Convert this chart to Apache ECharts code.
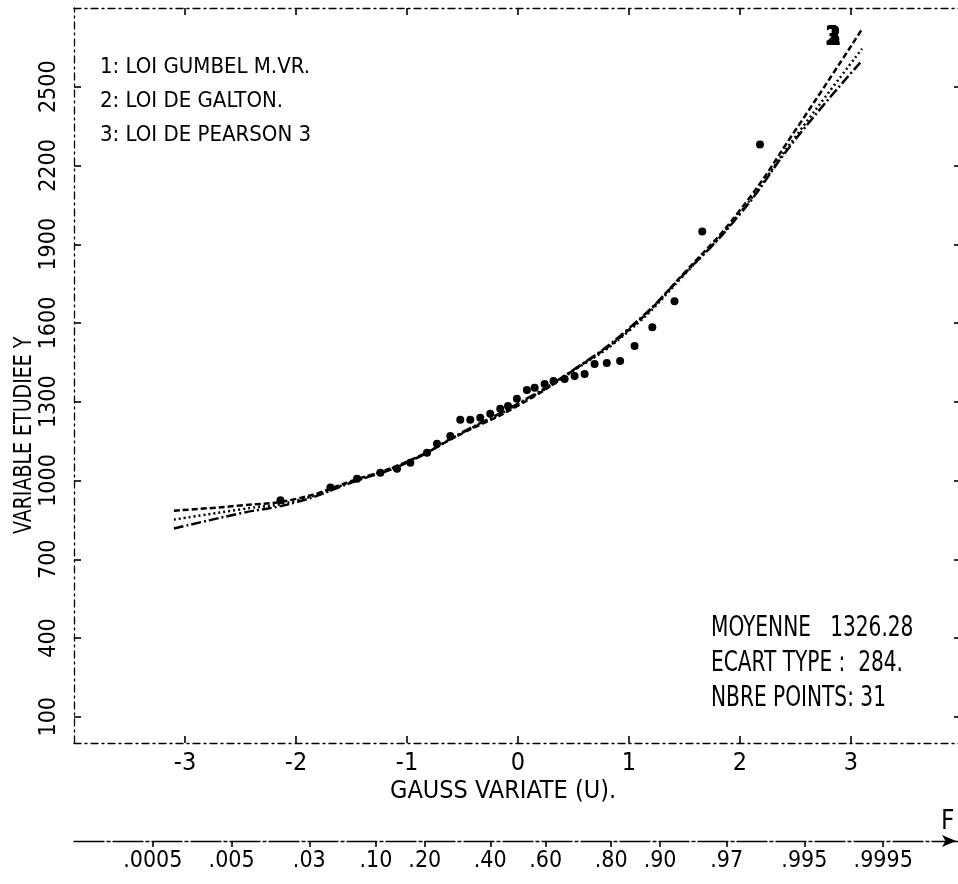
<!DOCTYPE html>
<html>
<head>
<meta charset="utf-8">
<script type="text/javascript" src="https://cdn.jsdelivr.net/npm/echarts@6/dist/echarts.min.js"></script>
<title>Ajustement - papier de Gauss</title>
<style>body{margin:0;background:#fff;}</style>
</head>
<body>
<div id="container" style="width:958px;height:884px;"></div>
<script type="text/javascript">
var FONT = '"DejaVu Sans Condensed", "DejaVu Sans", sans-serif';

// points observes : variable de Gauss u, valeur y
var obsU = [-2.14, -1.69, -1.45, -1.24, -1.09, -0.97, -0.82, -0.73, -0.61, -0.52, -0.43,
            -0.34, -0.25, -0.16, -0.09, -0.01, 0.08, 0.15, 0.24, 0.32, 0.42,
            0.51, 0.60, 0.69, 0.80, 0.92, 1.05, 1.21, 1.41, 1.66, 2.18];
var obsY = [925, 973, 1007, 1030, 1045, 1068, 1106, 1140, 1170, 1231, 1231,
            1239, 1254, 1273, 1284, 1311, 1345, 1353, 1368, 1379, 1387,
            1398, 1406, 1444, 1448, 1455, 1512, 1584, 1683, 1949, 2280];

// lois ajustees
var curveNames = ['1: LOI GUMBEL M.VR.', '2: LOI DE GALTON.', '3: LOI DE PEARSON 3'];
var curveU   = [-3.1, -2.5, -2, -1.5, -1, -0.5, 0, 0.5, 1, 1.5, 2, 2.5, 3.1];
var gumbelY  = [885, 905, 930, 998, 1072, 1180, 1285, 1420, 1575, 1792, 2030, 2335, 2720];
var galtonY  = [851, 890, 923, 995, 1070, 1182, 1290, 1418, 1570, 1785, 2020, 2310, 2645];
var pearsonY = [817, 875, 917, 992, 1068, 1184, 1293, 1422, 1580, 1788, 2015, 2300, 2600];

// graduations
var gaussTicks = [-3, -2, -1, 0, 1, 2, 3];
var yTicks = [100, 400, 700, 1000, 1300, 1600, 1900, 2200, 2500];
var probPos = [-3.29, -2.58, -1.88, -1.28, -0.84, -0.25, 0.25, 0.84, 1.28, 1.88, 2.58, 3.29];
var probLabels = ['.0005', '.005', '.03', '.10', '.20', '.40', '.60', '.80', '.90', '.97', '.995', '.9995'];

function zip(a, b) {
    return a.map(function (v, i) { return [v, b[i]]; });
}
// styles : toujours un nouvel objet
function borderStyle() { return { color: '#000', width: 1.3, type: [7, 4, 2, 4] }; }
function tickStyle() { return { color: '#000', width: 1.6, type: 'solid' }; }
function txt(text, x, y, size, extra) {
    var el = { type: 'text', x: x, y: y, style: { text: text, font: size + 'px ' + FONT, fill: '#000' } };
    for (var k in (extra || {})) { el[k] = extra[k]; }
    return el;
}

var myChart = echarts.init(document.getElementById('container'));

var labels = [
    // legende des lois
    txt(curveNames[0], 100, 56, 22),
    txt(curveNames[1], 100, 90, 22),
    txt(curveNames[2], 100, 124, 22),
    // titre des axes
    txt('GAUSS VARIATE (U).', 390, 779, 25),
    txt('F', 941, 809, 26),
    txt('VARIABLE ETUDIEE Y', 13, 534, 24, { rotation: Math.PI / 2, scaleX: 0.88 }),
    // numeros des lois en bout de courbe
    txt('1', 825, 25, 26, { style: { text: '1', font: 'bold 26px ' + FONT, fill: '#000' } }),
    txt('2', 825, 25, 26, { style: { text: '2', font: 'bold 26px ' + FONT, fill: '#000' } }),
    txt('3', 825, 25, 26, { style: { text: '3', font: 'bold 26px ' + FONT, fill: '#000' } }),
    // statistiques
    txt('MOYENNE   1326.28\nECART TYPE :  284.\nNBRE POINTS: 31', 711, 611, 28, { scaleX: 0.8 })
];
labels[labels.length - 1].style.lineHeight = 35;

var option = {
    backgroundColor: '#fff',
    animation: false,
    grid: { left: 74, right: -4, top: 8, bottom: 141, outerBoundsMode: 'none' },
    xAxis: [{
        // axe de Gauss
        type: 'value', min: -4, max: 4, position: 'bottom',
        axisLine: { show: true, onZero: false, lineStyle: borderStyle() },
        axisTick: { show: true, inside: true, length: 7, customValues: gaussTicks, lineStyle: tickStyle() },
        axisLabel: { customValues: gaussTicks, fontFamily: FONT, fontSize: 25, color: '#000', margin: 8 },
        splitLine: { show: false }
    }, {
        // bord superieur
        type: 'value', min: -4, max: 4, position: 'top',
        axisLine: { show: true, onZero: false, lineStyle: borderStyle() },
        axisTick: { show: true, inside: true, length: 7, customValues: gaussTicks, lineStyle: tickStyle() },
        axisLabel: { show: false },
        splitLine: { show: false }
    }, {
        // axe des frequences
        type: 'value', min: -4, max: 4, position: 'bottom', offset: 98,
        axisLine: {
            show: true, onZero: false,
            lineStyle: { color: '#000', width: 1.3, type: [30, 3, 3, 3] },
            symbol: ['none', 'arrow'], symbolSize: [9, 14], symbolOffset: [0, -6]
        },
        axisTick: { show: true, length: 6, customValues: probPos, lineStyle: tickStyle() },
        axisLabel: {
            customValues: probPos, fontFamily: FONT, fontSize: 23, color: '#000', margin: 9,
            formatter: function (v) { return probLabels[probPos.indexOf(v)]; }
        },
        splitLine: { show: false }
    }],
    yAxis: [{
        type: 'value', min: 0, max: 2800, position: 'left',
        axisLine: { show: true, onZero: false, lineStyle: borderStyle() },
        axisTick: { show: true, inside: true, length: 7, customValues: yTicks, lineStyle: tickStyle() },
        axisLabel: {
            customValues: yTicks, rotate: 90, fontFamily: FONT, fontSize: 23, color: '#000', margin: 13,
            formatter: function (v) { return String(v); }
        },
        splitLine: { show: false }
    }, {
        type: 'value', min: 0, max: 2800, position: 'right',
        axisLine: { show: false, onZero: false },
        axisTick: { show: true, inside: true, length: 8, customValues: yTicks, lineStyle: tickStyle() },
        axisLabel: { show: false },
        splitLine: { show: false }
    }],
    graphic: labels,
    series: [{
        name: curveNames[0],
        type: 'line', smooth: true, showSymbol: false,
        data: zip(curveU, gumbelY),
        lineStyle: { color: '#000', width: 2.5, type: [6, 3] }
    }, {
        name: curveNames[1],
        type: 'line', smooth: true, showSymbol: false,
        data: zip(curveU, galtonY),
        lineStyle: { color: '#000', width: 2.5, type: [2, 3] }
    }, {
        name: curveNames[2],
        type: 'line', smooth: true, showSymbol: false,
        data: zip(curveU, pearsonY),
        lineStyle: { color: '#000', width: 2.5, type: [10, 3, 2, 3] }
    }, {
        name: 'POINTS',
        type: 'scatter',
        symbol: 'circle', symbolSize: 8,
        data: zip(obsU, obsY),
        itemStyle: { color: '#000', opacity: 1 }
    }]
};

myChart.setOption(option);
</script>
</body>
</html>
